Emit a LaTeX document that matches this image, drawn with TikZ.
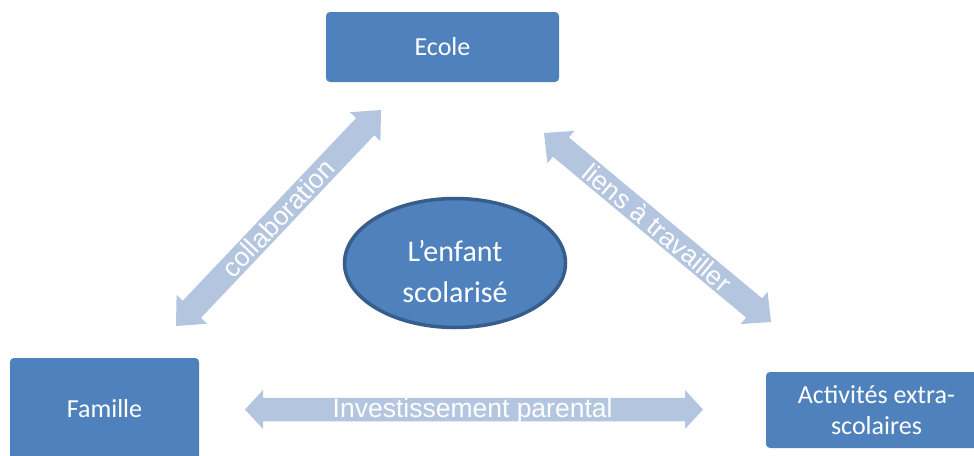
\documentclass[tikz,border=0pt]{standalone}
\usepackage{fontspec}
\setmainfont{Carlito}
\newfontfamily\arialf{Liberation Sans}
\usetikzlibrary{calc,shapes.geometric}
\definecolor{boxblue}{HTML}{4F81BD}
\definecolor{rimblue}{HTML}{385D8A}
\definecolor{arrblue}{HTML}{B4C5DF}
% start, end, head length, head half width, shaft half width
\newcommand{\dblarrow}[5]{%
\fill[arrblue] (#1) -- ($(#1)!#3!(#2)!#4!90:(#2)$) -- ($(#1)!#3!(#2)!#5!90:(#2)$)
  -- ($(#2)!#3!(#1)!#5!-90:(#1)$) -- ($(#2)!#3!(#1)!#4!-90:(#1)$) -- (#2)
  -- ($(#2)!#3!(#1)!#4!90:(#1)$) -- ($(#2)!#3!(#1)!#5!90:(#1)$)
  -- ($(#1)!#3!(#2)!#5!-90:(#2)$) -- ($(#1)!#3!(#2)!#4!-90:(#2)$) -- cycle;}
\begin{document}
\begin{tikzpicture}[x=1pt,y=-1pt,
  box/.style={rectangle, rounded corners=4pt, fill=boxblue, text=white, inner sep=0pt,
    align=center, font=\fontsize{26}{31}\selectfont},
  lbl/.style={text=white, inner sep=0pt, font=\arialf\fontsize{26.5}{30}\selectfont}]
\useasboundingbox (0,0) rectangle (974,455);
\clip (0,0) rectangle (974,455);
\fill[white] (0,0) rectangle (974,455);

\node[box, minimum width=233pt, minimum height=70pt] (ecole) at (442.5,47) {Ecole};
\node[box, minimum width=189pt, minimum height=102pt] (famille) at (104.5,409) {Famille};
\node[box, minimum width=221pt, minimum height=76pt] (activ) at (876.5,410) {Activités extra-\\scolaires};

\node[ellipse, draw=rimblue, line width=3.5pt, fill=boxblue, minimum width=221pt,
  minimum height=129pt, inner sep=0pt] (enfant) at (455,263) {};
\node[text=white, align=center, inner sep=0pt, font=\fontsize{30}{41}\selectfont]
  (enfantlbl) at (455,272) {L’enfant\\scolarisé};

\coordinate (cA) at (176,326);
\coordinate (cB) at (381,110);
\coordinate (lA) at (544,133);
\coordinate (lB) at (771,322);
\coordinate (iA) at (245,409.5);
\coordinate (iB) at (703,409.5);

\dblarrow{cA}{cB}{23pt}{21pt}{12.5pt}
\dblarrow{lA}{lB}{22pt}{21pt}{12.5pt}
\dblarrow{iA}{iB}{18pt}{19.5pt}{11.75pt}

\path (cA) -- node[lbl, sloped] (collab) {collaboration} (cB);
\path (lA) -- node[lbl, sloped] (liens) {liens à travailler} (lB);
\path (iA) -- node[lbl, pos=0.497, yshift=-1pt] (invest) {Investissement parental} (iB);
\end{tikzpicture}
\end{document}
